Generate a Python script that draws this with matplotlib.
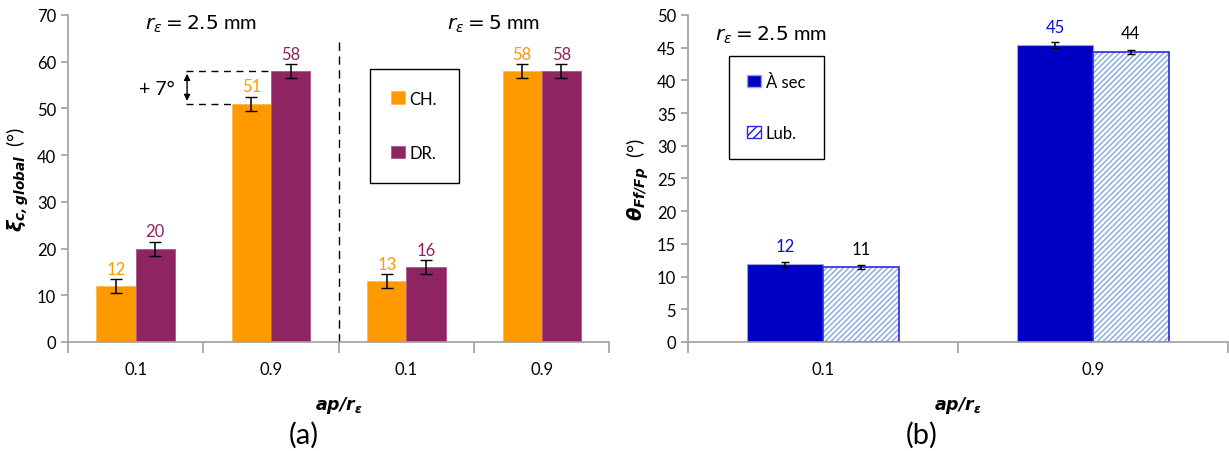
import numpy as np
import matplotlib.pyplot as plt
from matplotlib.patches import Patch

plt.rcParams['font.family'] = ['Lato', 'DejaVu Sans']
plt.rcParams['mathtext.fontset'] = 'dejavusans'
plt.rcParams['hatch.linewidth'] = 1.1

# Données (a)
cats_a = ['0.1', '0.9', '0.1', '0.9']
ch = [12, 51, 13, 58]
dr = [20, 58, 16, 58]
err_ch = [1.5, 1.5, 1.5, 1.5]
err_dr = [1.5, 1.5, 1.5, 1.5]
lab_ch = ['12', '51', '13', '58']
lab_dr = ['20', '58', '16', '58']

# Données (b)
cats_b = ['0.1', '0.9']
sec = [11.9, 45.4]
lub = [11.4, 44.4]
err_sec = [0.4, 0.4]
err_lub = [0.3, 0.3]
lab_sec = ['12', '45']
lab_lub = ['11', '44']

orange = '#FF9900'
violet = '#8E2461'
bleu = '#0000C4'
gris = '#A0A0A0'

fig = plt.figure(figsize=(12.29, 4.52), dpi=100)
ax1 = fig.add_axes([0.0553, 0.2412, 0.4406, 0.7235])
ax2 = fig.add_axes([0.5598, 0.2412, 0.4394, 0.7235])


def style_axes(ax, n):
    for s in ['top', 'right']:
        ax.spines[s].set_visible(False)
    for s in ['left', 'bottom']:
        ax.spines[s].set_color(gris)
        ax.spines[s].set_linewidth(1.2)
    ax.set_xlim(-0.5, n - 0.5)
    ax.set_xticks(np.arange(n))
    ax.set_xticks(np.arange(n + 1) - 0.5, minor=True)
    ax.tick_params(axis='x', which='major', length=0, pad=14, labelsize=12)
    ax.tick_params(axis='x', which='minor', length=8, color=gris, width=1.2)
    ax.tick_params(axis='y', length=5, color=gris, width=1.2, labelsize=12)


# ---- (a)
x = np.arange(len(cats_a))
w = 0.29
ax1.bar(x - w / 2, ch, w, color=orange, edgecolor='#FFB84D', linewidth=0.6, label='CH.')
ax1.bar(x + w / 2, dr, w, color=violet, edgecolor='#B0558A', linewidth=0.6, label='DR.')
ax1.errorbar(x - w / 2, ch, yerr=err_ch, fmt='none', ecolor='black', capsize=4, lw=1.1)
ax1.errorbar(x + w / 2, dr, yerr=err_dr, fmt='none', ecolor='black', capsize=4, lw=1.1)
for i in range(len(x)):
    ax1.text(x[i] - w / 2, ch[i] + err_ch[i] + 0.5, lab_ch[i], color=orange,
             ha='center', va='bottom', fontsize=12)
    ax1.text(x[i] + w / 2, dr[i] + err_dr[i] + 0.5, lab_dr[i], color=violet,
             ha='center', va='bottom', fontsize=12)
style_axes(ax1, len(cats_a))
ax1.set_xticklabels(cats_a)
ax1.set_ylim(0, 70)
ax1.set_yticks(np.arange(0, 71, 10))
ax1.axvline(1.5, ymin=0, ymax=0.93, color='black', ls=(0, (6, 4)), lw=1)
ax1.text(0.48, 68.3, r'$r_\varepsilon = 2.5$ mm', ha='center', va='center', fontsize=14.5)
ax1.text(2.64, 68.3, r'$r_\varepsilon = 5$ mm', ha='center', va='center', fontsize=14.5)
# annotation +7°
ax1.plot([0.37, 1.0], [58, 58], color='black', ls=(0, (5, 4)), lw=1)
ax1.plot([0.37, 0.71], [51, 51], color='black', ls=(0, (5, 4)), lw=1)
ax1.annotate('', xy=(0.38, 58), xytext=(0.38, 51),
             arrowprops=dict(arrowstyle='<|-|>', color='black', lw=1, mutation_scale=9))
ax1.text(0.16, 54.3, '+ 7°', ha='center', va='center', fontsize=14)
ax1.set_ylabel(r'$\mathbfit{\xi}_{\mathbfit{c,global}}$  (°)', fontsize=14, labelpad=4)
ax1.set_xlabel(r'$\mathbfit{ap/r_\varepsilon}$', fontsize=12.5, labelpad=12)
leg1 = ax1.legend(loc='upper left', bbox_to_anchor=(0.557, 0.835), fontsize=12,
                  frameon=True, fancybox=False, edgecolor='black', framealpha=1,
                  handlelength=0.8, handleheight=0.8, handletextpad=0.3,
                  labelspacing=2.3, borderpad=1.3, borderaxespad=0)
leg1.get_frame().set_linewidth(1.0)

# ---- (b)
xb = np.arange(len(cats_b))
wb = 0.28
ax2.bar(xb - wb / 2, sec, wb, color=bleu, edgecolor='#A0A0E0', linewidth=0.8)
ax2.bar(xb + wb / 2, lub, wb, color='white', edgecolor='#8AAEE0', hatch='//////', linewidth=0)
ax2.bar(xb + wb / 2, lub, wb, fill=False, edgecolor='#2A2AE0', linewidth=1.2)
ax2.errorbar(xb - wb / 2, sec, yerr=err_sec, fmt='none', ecolor='black', capsize=3, lw=1.1)
ax2.errorbar(xb + wb / 2, lub, yerr=err_lub, fmt='none', ecolor='black', capsize=3, lw=1.1)
for i in range(len(xb)):
    ax2.text(xb[i] - wb / 2, sec[i] + 1.6, lab_sec[i], color='#1010D0',
             ha='center', va='bottom', fontsize=12)
    ax2.text(xb[i] + wb / 2, lub[i] + 1.6, lab_lub[i], color='black',
             ha='center', va='bottom', fontsize=12)
style_axes(ax2, len(cats_b))
ax2.set_xticklabels(cats_b)
ax2.set_ylim(0, 50)
ax2.set_yticks(np.arange(0, 51, 5))
ax2.text(-0.4, 47.1, r'$r_\varepsilon = 2.5$ mm', ha='left', va='center', fontsize=14.5)
ax2.set_ylabel(r'$\mathbfit{\theta}_{\mathbfit{Ff/Fp}}$  (°)', fontsize=14, labelpad=4)
ax2.set_xlabel(r'$\mathbfit{ap/r_\varepsilon}$', fontsize=12.5, labelpad=12)
handles = [Patch(facecolor=bleu, edgecolor='#A0A0E0', label='À sec'),
           Patch(facecolor='white', edgecolor='#2A2AE0', hatch='////', label='Lub.')]
leg2 = ax2.legend(handles=handles, loc='upper left', bbox_to_anchor=(0.076, 0.876),
                  fontsize=12, frameon=True, fancybox=False, edgecolor='black',
                  framealpha=1, handlelength=0.8, handleheight=0.8, handletextpad=0.3,
                  labelspacing=2.1, borderpad=1.1, borderaxespad=0)
leg2.get_frame().set_linewidth(1.0)

fig.text(0.247, 0.038, '(a)', ha='center', va='center', fontsize=21)
fig.text(0.750, 0.038, '(b)', ha='center', va='center', fontsize=21)

fig.savefig('out.png', dpi=100)
